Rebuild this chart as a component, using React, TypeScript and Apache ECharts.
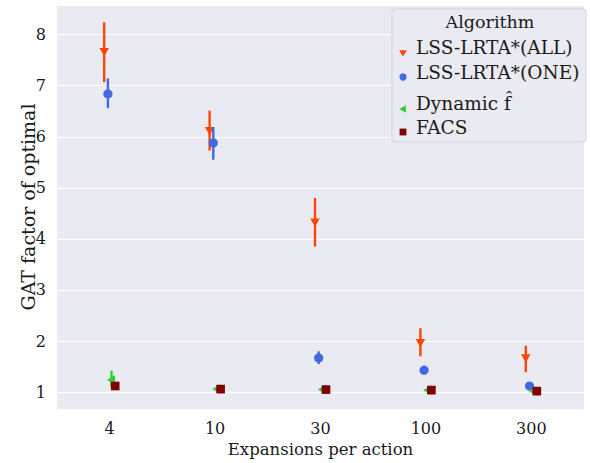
import React, { useEffect, useRef } from "react";
import * as echarts from "echarts";

const categories = ["4", "10", "30", "100", "300"];

const allMean = [7.67, 6.12, 4.33, 1.97, 1.67];
const allLo = [7.07, 5.73, 3.85, 1.70, 1.39];
const allHi = [8.24, 6.51, 4.80, 2.25, 1.91];

const oneMean = [6.84, 5.88, 1.67, 1.43, 1.12];
const oneLo = [6.56, 5.55, 1.55, 1.38, 1.09];
const oneHi = [7.14, 6.19, 1.80, 1.48, 1.15];

const dynMean = [1.24, 1.06, 1.05, 1.04, 1.02];
const dynLo = [1.10, 1.05, 1.04, 1.03, 1.01];
const dynHi = [1.42, 1.08, 1.06, 1.05, 1.03];

const facsMean = [1.12, 1.06, 1.05, 1.04, 1.02];
const facsLo = [1.10, 1.05, 1.04, 1.03, 1.01];
const facsHi = [1.14, 1.07, 1.06, 1.05, 1.03];

const yTicks = [1, 2, 3, 4, 5, 6, 7, 8];

const FONT = "DejaVu Serif";
const TXT = "#1a1a1a";

type Shape = "down" | "circle" | "left" | "square";

function makeData(mean: number[], lo: number[], hi: number[]) {
  return mean.map((m, i) => [i, m, lo[i], hi[i]]);
}

function markerEl(shape: Shape, x: number, y: number, s: number, color: string, z?: number): any {
  const base: any = z === undefined ? {} : { z };
  if (shape === "down") {
    return { ...base, type: "polygon", shape: { points: [[x - s, y - 0.75 * s], [x + s, y - 0.75 * s], [x, y + 0.95 * s]] }, style: { fill: color } };
  }
  if (shape === "circle") {
    return { ...base, type: "circle", shape: { cx: x, cy: y, r: s * 0.96 }, style: { fill: color } };
  }
  if (shape === "left") {
    return { ...base, type: "polygon", shape: { points: [[x - 0.95 * s, y], [x + 0.75 * s, y - s], [x + 0.75 * s, y + s]] }, style: { fill: color } };
  }
  return { ...base, type: "rect", shape: { x: x - 0.9 * s, y: y - 0.9 * s, width: 1.8 * s, height: 1.8 * s }, style: { fill: color } };
}

function makeRender(color: string, shape: Shape, offset: number) {
  return (_params: any, api: any) => {
    const c = api.value(0);
    const p = api.coord([c, api.value(1)]);
    const pl = api.coord([c, api.value(2)]);
    const ph = api.coord([c, api.value(3)]);
    const x = p[0] + offset;
    const y = p[1];
    return {
      type: "group",
      children: [
        {
          type: "line",
          shape: { x1: x, y1: pl[1], x2: x, y2: ph[1] },
          style: { stroke: color, lineWidth: 2.4 },
        },
        markerEl(shape, x, y, 4.8, color),
      ],
    };
  };
}

const seriesDefs = [
  { name: "LSS-LRTA*(ALL)", color: "#FF4500", shape: "down" as Shape, off: -5.5, mean: allMean, lo: allLo, hi: allHi },
  { name: "LSS-LRTA*(ONE)", color: "#4169E1", shape: "circle" as Shape, off: -1.8, mean: oneMean, lo: oneLo, hi: oneHi },
  { name: "Dynamic f\u0302", color: "#32CD32", shape: "left" as Shape, off: 1.8, mean: dynMean, lo: dynLo, hi: dynHi },
  { name: "FACS", color: "#800000", shape: "square" as Shape, off: 5.5, mean: facsMean, lo: facsLo, hi: facsHi },
];

// legend rows: text centre y and marker centre y
const legendTextY = [47, 72, 103, 127];
const legendMarkY = [53, 77, 109, 132];

export default function App() {
  const ref = useRef<HTMLDivElement>(null);
  useEffect(() => {
    if (!ref.current) return;
    const chart = echarts.init(ref.current, undefined, { renderer: "svg" });
    chart.setOption({
      animation: false,
      backgroundColor: "#ffffff",
      grid: {
        left: 57,
        right: 6,
        top: 5,
        bottom: 51,
        show: true,
        backgroundColor: "#EAEAF2",
        borderWidth: 0,
      },
      xAxis: {
        type: "category",
        data: categories,
        axisLine: { show: false },
        axisTick: { show: false },
        splitLine: { show: false },
        axisLabel: { color: TXT, fontFamily: FONT, fontSize: 16, margin: 11, lineHeight: 17 },
        name: "Expansions per action",
        nameLocation: "middle",
        nameGap: 31,
        nameMoveOverlap: false,
        nameTextStyle: { color: TXT, fontFamily: FONT, fontSize: 16.5, lineHeight: 18, verticalAlign: "top" },
      },
      yAxis: {
        type: "value",
        min: 0.67,
        max: 8.58,
        splitNumber: 8,
        minInterval: 1,
        maxInterval: 1,
        axisLine: { show: false },
        axisTick: { show: false },
        splitLine: { show: true, lineStyle: { color: "#ffffff", width: 1.2 } },
        axisLabel: {
          color: TXT,
          fontFamily: FONT,
          fontSize: 16,
          margin: 11,
          showMinLabel: false,
          showMaxLabel: false,
          formatter: (v: number) => (yTicks.indexOf(Math.round(v)) >= 0 && Math.abs(v - Math.round(v)) < 1e-6 ? String(Math.round(v)) : ""),
        },
        name: "GAT factor of optimal",
        nameLocation: "middle",
        nameGap: 20,
        nameMoveOverlap: false,
        nameTextStyle: { color: TXT, fontFamily: FONT, fontSize: 19 },
      },
      legend: seriesDefs.map((s, i) => ({
        orient: "vertical",
        left: 399,
        top: legendTextY[i] - 10,
        z: 100,
        itemWidth: 8,
        itemHeight: 8,
        padding: 0,
        textStyle: { color: TXT, fontFamily: FONT, fontSize: 18.5, lineHeight: 20, padding: [0, 0, 0, 4] },
        data: [{ name: s.name, icon: "none" }],
      })),
      graphic: [
        {
          type: "rect",
          z: 50,
          shape: { x: 392, y: 9, width: 194, height: 133, r: 3 },
          style: { fill: "rgba(234,234,242,0.85)", stroke: "#d3d3da", lineWidth: 1 },
        },
        {
          type: "text",
          z: 51,
          x: 490,
          y: 22,
          style: { text: "Algorithm", fill: TXT, font: `17.5px "${FONT}"`, align: "center", verticalAlign: "middle" },
        },
        ...seriesDefs.map((s, i) => markerEl(s.shape, 403, legendMarkY[i], 3.8, s.color, 52)),
      ],
      series: seriesDefs.map((s) => ({
        type: "custom",
        name: s.name,
        itemStyle: { color: s.color },
        renderItem: makeRender(s.color, s.shape, s.off),
        data: makeData(s.mean, s.lo, s.hi),
        encode: { x: 0, y: 1 },
      })),
    });
    return () => chart.dispose();
  }, []);
  return <div ref={ref} style={{ position: "fixed", left: 0, top: 0, width: 590, height: 463 }} />;
}
